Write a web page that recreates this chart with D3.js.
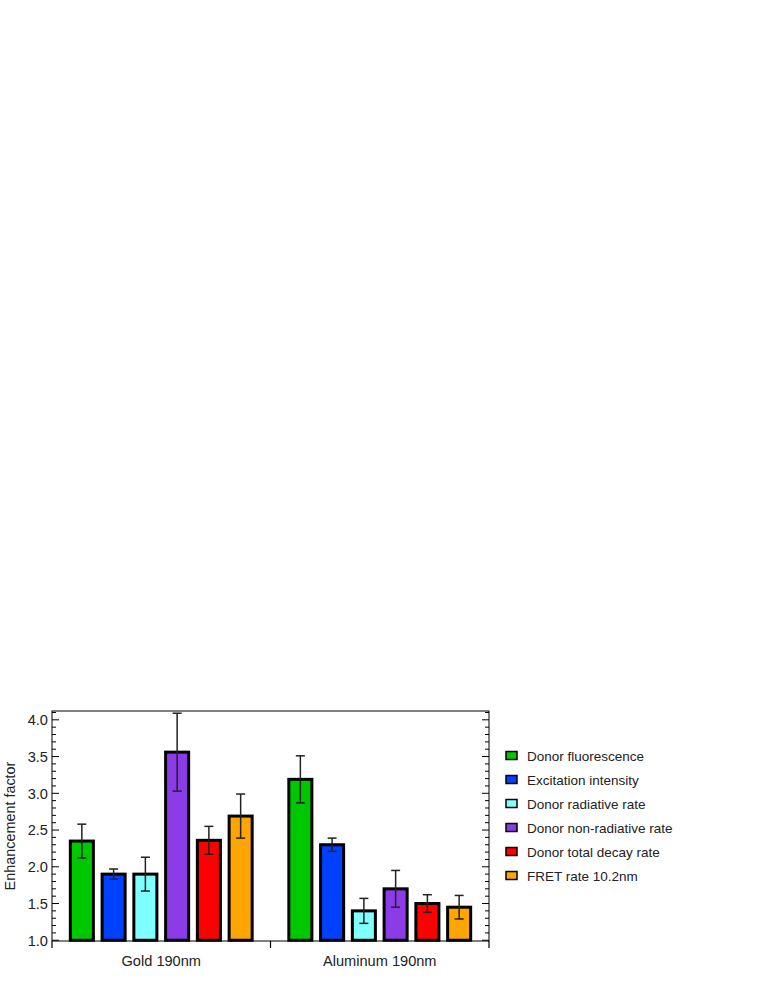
<!DOCTYPE html>
<html>
<head>
<meta charset="utf-8">
<script src="https://cdn.jsdelivr.net/npm/d3@7"></script>
<style>
  body { margin: 0; background: #fff; }
  text { font-family: "Liberation Sans", Arial, sans-serif; }
</style>
</head>
<body>
<div id="chart"></div>
<script>
// data
const groups = ["Gold 190nm", "Aluminum 190nm"];
const series = ["Donor fluorescence", "Excitation intensity", "Donor radiative rate",
                "Donor non-radiative rate", "Donor total decay rate", "FRET rate 10.2nm"];
const colors = ["#00c800", "#0040ff", "#80ffff", "#8c3ce6", "#ff0000", "#ffa500"];
const goldValues = [2.35, 1.90, 1.90, 3.56, 2.36, 2.69];
const goldErrors = [0.23, 0.07, 0.23, 0.53, 0.19, 0.30];
const aluValues = [3.19, 2.30, 1.40, 1.70, 1.50, 1.45];
const aluErrors = [0.32, 0.09, 0.17, 0.25, 0.12, 0.16];
const yTicks = [1.0, 1.5, 2.0, 2.5, 3.0, 3.5, 4.0];

const rows = [];
groups.forEach((g, gi) => {
    const vals = gi === 0 ? goldValues : aluValues;
    const errs = gi === 0 ? goldErrors : aluErrors;
    series.forEach((s, si) => {
        rows.push({ group: g, series: s, value: vals[si], err: errs[si], color: colors[si] });
    });
});

const width = 763, height = 987;
const margin = { left: 52, right: 274, top: 711, bottom: 46 };
const plotRight = width - margin.right;
const plotBottom = height - margin.bottom;

const svg = d3.select("#chart").append("svg").attr("width", width).attr("height", height);

const x = d3.scaleBand().domain(groups).range([margin.left, plotRight]).padding(0);
const xInner = d3.scaleBand().domain(series).range([0, x.bandwidth()])
    .paddingInner(0.18).paddingOuter(0.53);
const y = d3.scaleLinear().domain([0.99, 4.12]).range([plotBottom, margin.top]);

// frame
svg.append("rect")
    .attr("x", margin.left).attr("y", margin.top)
    .attr("width", plotRight - margin.left).attr("height", plotBottom - margin.top)
    .attr("fill", "none").attr("stroke", "#000").attr("stroke-width", 1);

// y axis left
const minor = d3.range(1.0, 4.11, 0.1).map(v => +v.toFixed(1));
const yAxisL = svg.append("g").attr("transform", `translate(${margin.left},0)`);
yAxisL.selectAll(".minor").data(minor).enter().append("line")
    .attr("x1", 0).attr("x2", d => yTicks.includes(d) ? 7 : 4)
    .attr("y1", d => y(d)).attr("y2", d => y(d))
    .attr("stroke", "#000").attr("stroke-width", 1);
yAxisL.selectAll(".lab").data(yTicks).enter().append("text")
    .attr("x", -4).attr("y", d => y(d)).attr("dy", "0.36em")
    .attr("text-anchor", "end").attr("font-size", 14.6).attr("fill", "#222")
    .text(d3.format(".1f"));

// y axis right
const yAxisR = svg.append("g").attr("transform", `translate(${plotRight},0)`);
yAxisR.selectAll(".minor").data(minor).enter().append("line")
    .attr("x1", 0).attr("x2", d => yTicks.includes(d) ? -7 : -4)
    .attr("y1", d => y(d)).attr("y2", d => y(d))
    .attr("stroke", "#000").attr("stroke-width", 1);

// x axis
const xAxis = d3.axisBottom(x).tickSize(0).tickPadding(14.5);
const gx = svg.append("g").attr("transform", `translate(0,${plotBottom})`).call(xAxis);
gx.select(".domain").remove();
gx.selectAll("text").attr("font-size", 14.6).attr("fill", "#222")
    .attr("font-family", "Liberation Sans, Arial, sans-serif");
const edges = [margin.left, margin.left + x.bandwidth(), plotRight];
svg.selectAll(".xedge").data(edges).enter().append("line")
    .attr("x1", d => d).attr("x2", d => d)
    .attr("y1", plotBottom).attr("y2", plotBottom + 7)
    .attr("stroke", "#000").attr("stroke-width", 1.2);

// y label
svg.append("text")
    .attr("transform", `translate(15,${(margin.top + plotBottom) / 2}) rotate(-90)`)
    .attr("text-anchor", "middle").attr("font-size", 14.4).attr("fill", "#222")
    .text("Enhancement factor");

// bars
svg.selectAll(".bar").data(rows).enter().append("rect")
    .attr("x", d => x(d.group) + xInner(d.series) + 1.5)
    .attr("y", d => y(d.value))
    .attr("width", xInner.bandwidth() - 3)
    .attr("height", d => y(1.0) - y(d.value))
    .attr("fill", d => d.color)
    .attr("stroke", "#000").attr("stroke-width", 3);

// error bars
const cap = 4.5;
const eb = svg.selectAll(".err").data(rows).enter().append("g")
    .attr("transform", d => `translate(${x(d.group) + xInner(d.series) + xInner.bandwidth() / 2},0)`)
    .attr("stroke", "#222").attr("stroke-width", 1.5);
eb.append("line").attr("x1", 0).attr("x2", 0)
    .attr("y1", d => y(d.value + d.err)).attr("y2", d => y(d.value - d.err));
eb.append("line").attr("x1", -cap).attr("x2", cap)
    .attr("y1", d => y(d.value + d.err)).attr("y2", d => y(d.value + d.err));
eb.append("line").attr("x1", -cap).attr("x2", cap)
    .attr("y1", d => y(d.value - d.err)).attr("y2", d => y(d.value - d.err));

// legend
const legend = svg.append("g").attr("transform", "translate(506,756)");
const li = legend.selectAll(".item").data(series).enter().append("g")
    .attr("transform", (d, i) => `translate(0,${i * 24})`);
li.append("rect").attr("x", 0).attr("y", -4.5).attr("width", 11).attr("height", 8)
    .attr("fill", (d, i) => colors[i]).attr("stroke", "#000").attr("stroke-width", 1.5);
li.append("text").attr("x", 21).attr("y", 0).attr("dy", "0.36em")
    .attr("font-size", 13.5).attr("fill", "#222").text(d => d);
</script>
</body>
</html>
